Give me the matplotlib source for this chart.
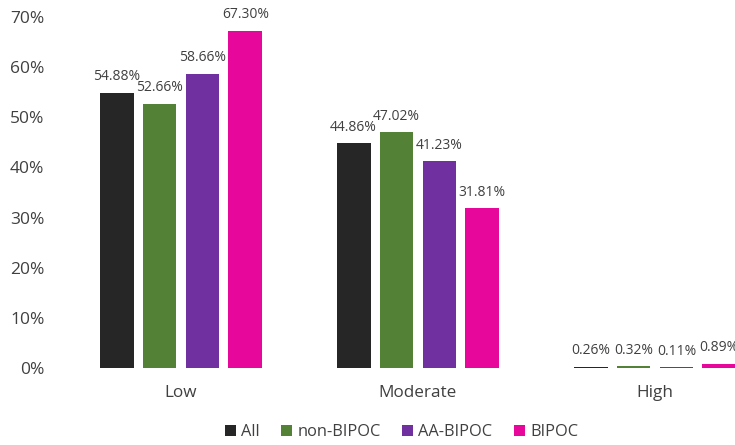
import numpy as np
import matplotlib.pyplot as plt

plt.rcParams['font.family'] = ['Open Sans', 'DejaVu Sans']

categories = ['Low', 'Moderate', 'High']
series = ['All', 'non-BIPOC', 'AA-BIPOC', 'BIPOC']
values_all = [54.88, 44.86, 0.26]
values_non_bipoc = [52.66, 47.02, 0.32]
values_aa_bipoc = [58.66, 41.23, 0.11]
values_bipoc = [67.30, 31.81, 0.89]
colors = ['#262626', '#538135', '#7030A0', '#E8079B']

data = [values_all, values_non_bipoc, values_aa_bipoc, values_bipoc]

fig = plt.figure(figsize=(7.35, 4.45), dpi=100)
# plot area runs past the right edge, like the cropped original
ax = fig.add_axes([62.5 / 735, 77 / 445, 711 / 735, 351 / 445])

x = np.arange(len(categories))
step = 0.181
width = 0.143
for i, (name, vals, c) in enumerate(zip(series, data, colors)):
    pos = x + (i - 1.5) * step
    bars = ax.bar(pos, vals, width=width, color=c, edgecolor='none', label=name)
    for b, v in zip(bars, vals):
        ax.text(b.get_x() + b.get_width() / 2, v + 1.7, '%.2f%%' % v,
                ha='center', va='bottom', fontsize=10, color='#404040')

ax.set_xlim(-0.5, 2.5)
ax.set_ylim(0, 70)
ax.set_yticks(np.arange(0, 71, 10))
ax.set_yticklabels(['%d%%' % t for t in range(0, 71, 10)], fontsize=12.5, color='#404040')
ax.set_xticks(x)
ax.set_xticklabels(categories, fontsize=12.3, color='#404040')
ax.tick_params(length=0)
ax.tick_params(axis='x', pad=12)
ax.tick_params(axis='y', pad=13)
for s in ax.spines.values():
    s.set_visible(False)

fig.legend(loc='center', bbox_to_anchor=(0.546, 0.029), ncol=4, frameon=False,
           fontsize=11.8, handlelength=0.7, handleheight=0.7, handletextpad=0.3,
           columnspacing=1.3, labelcolor='#404040')

fig.savefig('out.png', dpi=100)
